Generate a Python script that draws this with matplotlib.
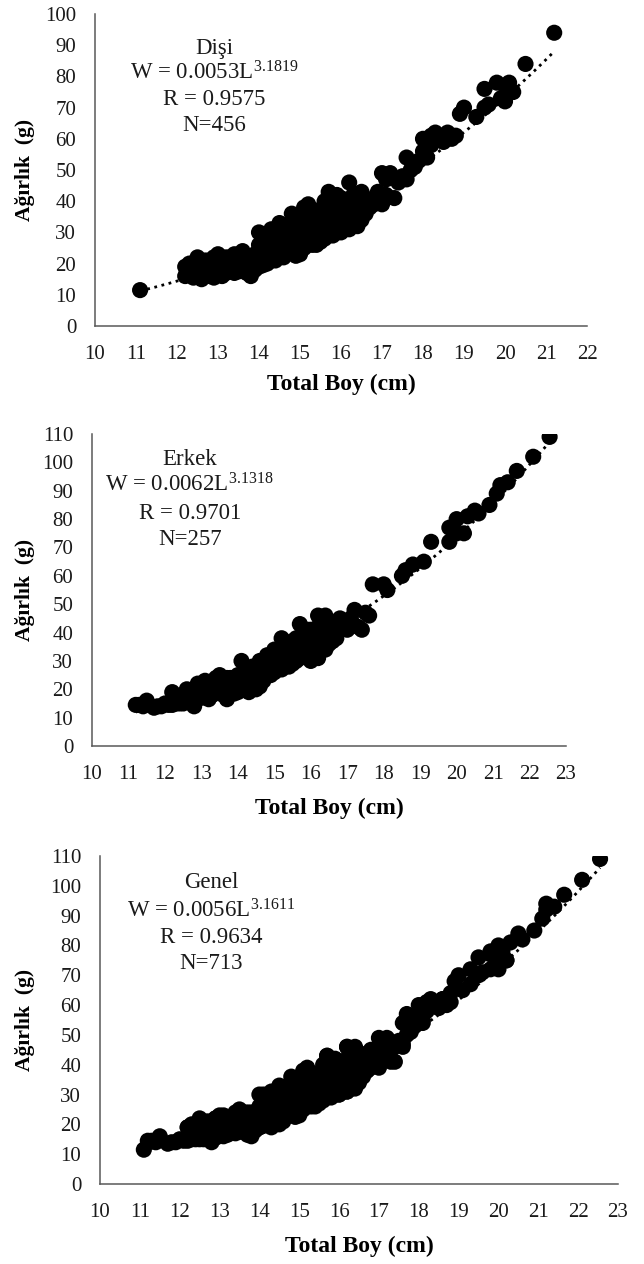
import numpy as np
import matplotlib
matplotlib.use("Agg")
import matplotlib.pyplot as plt

plt.rcParams['font.family'] = ['Liberation Serif', 'DejaVu Serif']
plt.rcParams['mathtext.fontset'] = 'custom'
plt.rcParams['mathtext.rm'] = 'Liberation Serif'
plt.rcParams['mathtext.it'] = 'Liberation Serif:italic'

# Disi (female)
disi_boy = [11.1,
            12.2, 12.2, 12.3, 12.4, 12.5, 12.5, 12.6, 12.6, 12.7, 12.8, 12.9, 12.9, 13.0, 13.0,
            13.1, 13.1, 13.2, 13.2, 13.3, 13.4, 13.4, 13.5, 13.6, 13.6, 13.7, 13.7, 13.8, 13.8,
            13.9, 14.0, 14.0, 14.0, 14.1, 14.1, 14.2, 14.2, 14.3, 14.3, 14.4, 14.4, 14.5, 14.5,
            14.6, 14.6, 14.7, 14.7, 14.8, 14.8, 14.9, 14.9, 15.0, 15.0, 15.0, 15.1, 15.1, 15.2,
            15.2, 15.3, 15.3, 15.4, 15.4, 15.5, 15.5, 15.6, 15.6, 15.7, 15.7, 15.8, 15.8, 15.9,
            15.9, 16.0, 16.0, 16.1, 16.1, 16.2, 16.2, 16.3, 16.3, 16.4, 16.5, 16.5, 16.6, 16.8,
            16.9, 17.0, 17.0, 17.2, 17.3, 17.4, 17.5, 17.6, 17.8, 17.9, 18.0, 18.0, 18.1, 18.2,
            18.3, 18.4, 18.6, 18.7, 18.8, 18.9, 19.0, 19.3, 19.5, 19.5, 19.8, 19.9, 20.0, 20.0,
            20.2, 20.5, 21.2,
            12.3, 12.4, 12.7, 12.8, 13.0, 13.2, 13.3, 13.5, 13.6, 13.9, 13.9, 14.0, 14.1, 14.2,
            14.3, 14.4, 14.5, 14.6, 14.7, 14.8, 14.9, 14.9, 15.0, 15.1, 15.1, 15.2, 15.3, 15.3,
            15.4, 15.5, 15.5, 15.6, 15.6, 15.7, 15.7, 15.8, 15.9, 15.9, 16.0, 16.0, 16.1, 16.1,
            16.2, 16.2, 16.3, 16.4, 16.4, 16.5, 16.6, 16.7, 16.8, 16.9, 17.1, 17.1, 17.6, 17.7,
            18.2, 18.5, 19.6, 20.1]
disi_agirlik = [11.5,
                16, 19, 17, 18, 22, 16, 15, 19, 17, 20, 15.5, 22, 18, 23,
                16, 20, 22, 17, 19, 23, 17, 21, 24, 19, 17, 22, 16, 20,
                23, 19, 30, 26, 22, 28, 20, 24, 31, 26, 21, 29, 23, 33,
                27, 31, 25, 29, 36, 24, 33, 27, 23, 30, 35, 38, 27, 32,
                39, 26, 35, 29, 37, 27, 33, 40, 31, 43, 36, 29, 39, 33,
                42, 30, 37, 40, 34, 46, 31, 37, 42, 32, 43, 37, 39, 41,
                43, 39, 49, 49, 41, 46, 48, 54, 51, 53, 56, 60, 54, 58,
                62, 60, 62, 60, 61, 68, 70, 67, 70, 76, 78, 73, 77, 72,
                75, 84, 94,
                20, 15.5, 21, 16, 20.5, 19.5, 22, 17.5, 21.5, 18, 20.5, 23.5, 19.5, 27,
                21, 24, 28, 22, 32, 28, 22.5, 30, 27, 25, 31, 36, 29, 32,
                26, 30, 36, 28, 34, 30, 39, 35, 30, 38, 33, 41, 31, 37,
                34, 39, 33, 35, 40, 34, 36, 38, 39, 40, 42, 47, 47, 50,
                61, 59, 71, 78]

# Erkek (male)
erkek_boy = [11.2, 11.3, 11.5, 11.7, 11.8, 11.9, 12.0, 12.2, 12.2, 12.3, 12.4, 12.5, 12.6, 12.6,
             12.8, 12.8, 12.9, 13.0, 13.0, 13.1, 13.2, 13.3, 13.3, 13.4, 13.5, 13.5, 13.6, 13.7,
             13.7, 13.8, 14.0, 14.0, 14.1, 14.1, 14.2, 14.3, 14.4, 14.5, 14.5, 14.6, 14.7, 14.8,
             14.8, 14.9, 15.0, 15.0, 15.1, 15.2, 15.2, 15.3, 15.4, 15.4, 15.5, 15.6, 15.6, 15.7,
             15.7, 15.8, 15.8, 15.9, 16.0, 16.0, 16.1, 16.2, 16.2, 16.3, 16.4, 16.4, 16.5, 16.6,
             16.7, 16.8, 17.0, 17.2, 17.4, 17.5, 17.7, 18.0, 18.1, 18.5, 18.6, 18.8, 19.1, 19.3,
             19.8, 19.8, 20.0, 20.0, 20.2, 20.3, 20.5, 20.6, 20.9, 21.1, 21.2, 21.4, 21.65, 22.1,
             22.55,
             11.4, 12.1, 12.3, 12.5, 12.7, 12.9, 13.1, 13.2, 13.4, 13.6, 13.8, 13.9, 14.0, 14.2,
             14.3, 14.4, 14.6, 14.7, 14.9, 15.0, 15.1, 15.2, 15.3, 15.4, 15.5, 15.5, 15.6, 15.7,
             15.8, 15.9, 15.9, 16.0, 16.1, 16.1, 16.2, 16.3, 16.3, 16.4, 16.5, 16.5, 16.6, 16.7,
             16.9, 17.1, 17.3, 17.6]
erkek_agirlik = [14.5, 14.5, 16, 13.5, 14, 14, 15, 14.5, 19, 17, 15, 18, 20, 16,
                 14, 19, 22, 17, 21, 23, 19, 22, 18, 24, 20, 25, 22, 16.5,
                 24, 21, 22, 19, 30, 25, 20, 23, 28, 20, 25, 30, 23, 32,
                 27, 25, 30, 34, 28, 38, 32, 30, 35, 28, 33, 38, 30, 43,
                 35, 40, 33, 37, 30, 41, 35, 46, 31, 38, 46, 34, 41, 37,
                 40, 45, 41, 48, 41, 47, 57, 57, 55, 60, 62, 64, 65, 72,
                 72, 77, 75, 80, 75, 81, 83, 82, 85, 89, 92, 93, 97, 102,
                 109,
                 14, 14.5, 15, 15, 17, 17, 20, 16.5, 20.5, 18, 24, 18.5, 25, 22,
                 19, 25, 21, 27, 29, 26, 32, 27, 35, 32, 29, 37, 34, 31,
                 37, 34, 41, 34, 39, 32, 42, 35, 44, 38, 36, 44, 41, 38,
                 43, 45, 42, 46]

# Genel = all fish (Disi + Erkek)
genel_boy = disi_boy + erkek_boy
genel_agirlik = disi_agirlik + erkek_agirlik

panels = [
    dict(x=disi_boy, y=disi_agirlik, name='Dişi', a=0.0053, b=3.1819, r='0.9575', n=456,
         ymax=100, xmax=22, rect=[0.1475, 0.7421, 0.764, 0.2468],
         tx=0.242, ty=[0.890, 0.810, 0.727, 0.643], ylx=-0.122, xly=-0.154),
    dict(x=erkek_boy, y=erkek_agirlik, name='Erkek', a=0.0062, b=3.1318, r='0.9701', n=257,
         ymax=110, xmax=23, rect=[0.1429, 0.4098, 0.736, 0.2468],
         tx=0.206, ty=[0.917, 0.836, 0.746, 0.663], ylx=-0.121, xly=-0.167),
    dict(x=genel_boy, y=genel_agirlik, name='Genel', a=0.0056, b=3.1611, r='0.9634', n=713,
         ymax=110, xmax=23, rect=[0.1553, 0.0633, 0.8043, 0.2595],
         tx=0.214, ty=[0.920, 0.833, 0.752, 0.671], ylx=-0.125, xly=-0.159),
]

fig = plt.figure(figsize=(6.44, 12.64), dpi=100)

for p in panels:
    ax = fig.add_axes(p['rect'])
    xs = np.array(p['x'])
    # power trend line from the equation printed on the chart
    lx = np.linspace(xs.min(), xs.max(), 200)
    ax.plot(lx, p['a'] * lx ** p['b'], color='black', linestyle=':', linewidth=2, zorder=2)
    ax.scatter(p['x'], p['y'], s=135, color='black', edgecolors='none', zorder=3)

    ax.set_xlim(10, p['xmax'])
    ax.set_ylim(0, p['ymax'])
    ax.set_xticks(range(10, p['xmax'] + 1))
    ax.set_yticks(range(0, p['ymax'] + 1, 10))
    ax.tick_params(length=0, labelsize=15, pad=13.5, colors='#1a1a1a')
    for s in ['top', 'right']:
        ax.spines[s].set_visible(False)
    for s in ['left', 'bottom']:
        ax.spines[s].set_color('#595959')
        ax.spines[s].set_linewidth(1.1)

    ax.set_xlabel('Total Boy (cm)', fontsize=17, fontweight='bold')
    ax.set_ylabel('Ağırlık  (g)', fontsize=15.5, fontweight='bold')
    ax.xaxis.set_label_coords(0.5, p['xly'])
    ax.yaxis.set_label_coords(p['ylx'], 0.5)

    lines = [p['name'],
             'W = %sL$^{\\mathrm{%s}}$' % (str(p['a']), str(p['b'])),
             'R = ' + p['r'],
             'N=%d' % p['n']]
    for txt, ty in zip(lines, p['ty']):
        ax.text(p['tx'], ty, txt, transform=ax.transAxes, ha='center', va='center',
                fontsize=16.5, color='#1a1a1a')

fig.savefig('out.png', dpi=100)
